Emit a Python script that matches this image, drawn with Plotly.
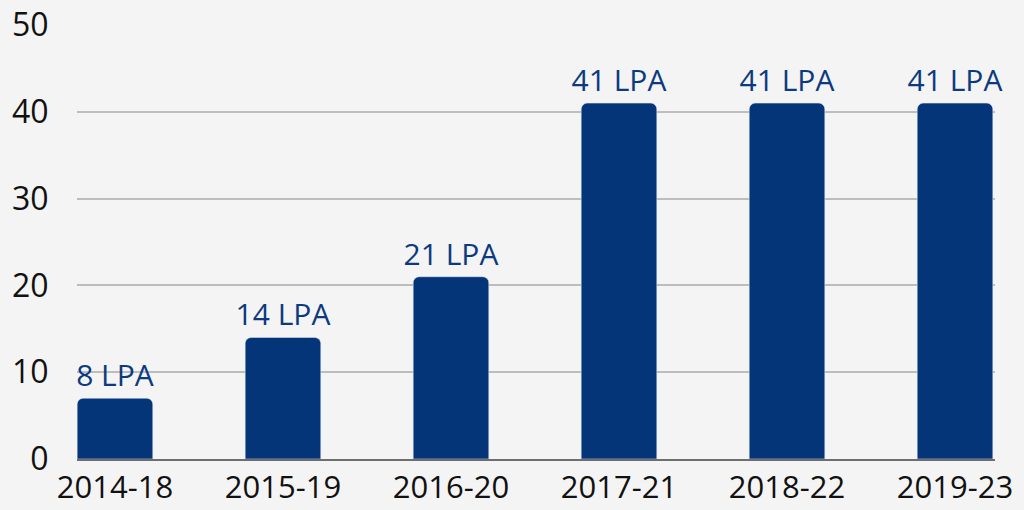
import plotly.graph_objects as go

categories = ["2014-18", "2015-19", "2016-20", "2017-21", "2018-22", "2019-23"]
values = [7, 14, 21, 41, 41, 41]
labels = ["8 LPA", "14 LPA", "21 LPA", "41 LPA", "41 LPA", "41 LPA"]
y_ticks = [0, 10, 20, 30, 40, 50]

fig = go.Figure(go.Bar(
    x=categories, y=values, text=labels,
    textposition="outside", cliponaxis=False, constraintext="none",
    textfont=dict(family="Open Sans", size=30, color="#0b3a80"),
    marker=dict(color="#053579", cornerradius=6),
    width=0.45,
))

fig.update_layout(
    width=1024, height=510,
    margin=dict(l=77, r=29, t=25, b=51, autoexpand=False),
    paper_bgcolor="#f4f4f4", plot_bgcolor="rgba(0,0,0,0)",
    showlegend=False,
    font=dict(family="Open Sans", color="#111111"),
)
fig.update_xaxes(
    range=[-0.226, 5.238], showgrid=False, automargin=False,
    showline=True, linecolor="#6e6e6e", linewidth=2,
    tickfont=dict(size=31, color="#111111"),
    ticks="", ticklen=0,
)
fig.update_yaxes(
    range=[0, 50], tickvals=y_ticks, showgrid=True, gridcolor="#bdbdbd", gridwidth=2,
    zeroline=False, showline=False, automargin=False,
    tickfont=dict(size=32, color="#111111"),
    ticks="outside", ticklen=21, tickcolor="rgba(0,0,0,0)",
)
fig.write_html("out.html")
